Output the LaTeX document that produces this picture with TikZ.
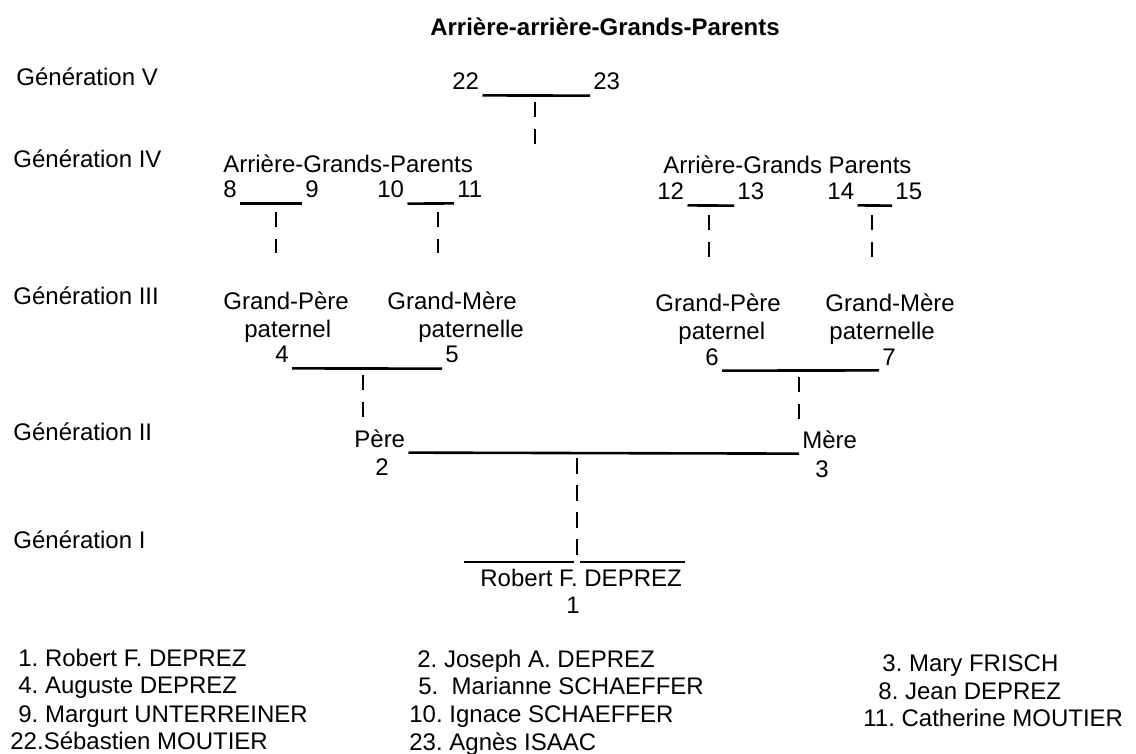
\documentclass[tikz,border=0pt]{standalone}
\usepackage{fontspec}
\setmainfont{Liberation Sans}
\usepackage{tikz}
\usetikzlibrary{positioning}
\usetikzlibrary{calc}
\frenchspacing
\tikzset{
    lbl/.style = {anchor=base west, inner xsep=1.5pt, inner ysep=2.5pt},
    num/.style = {anchor=base west, inner xsep=1.5pt, inner ysep=2.5pt},
    ctr/.style = {anchor=base, inner sep=0pt},
    leg/.style = {anchor=base west, inner sep=0pt},
    titre/.style = {anchor=base, inner sep=0pt, font=\fontsize{12}{14}\selectfont\bfseries},
}

\begin{document}
\begin{tikzpicture}[
	x=0.5pt, y=-0.5pt,
	font=\fontsize{12}{14}\selectfont
]
\tikzset{
    lien/.style = {line width=1.3pt},
    desc/.style = {line width=1.3pt, dash pattern=on 7.75pt off 5.75pt}
}
\useasboundingbox (0,0) rectangle (1136,754);
%
\node[titre] (titre) at (605,36) {Arrière-arrière-Grands-Parents};
\node[leg] (g5) at (16,86) {Génération V};
\node[leg] (g4) at (13,168) {Génération IV};
\node[leg] (g3) at (13,305) {Génération III};
\node[leg] (g2) at (13,440) {Génération II};
\node[leg] (g1) at (13,548) {Génération I};
%
\node[num] (p22) at (449,90) {22};
\node[num] (p23) at (590,90) {23};
\draw[lien] (p22.south east) -- (p23.south west);
\coordinate (h2223) at (535,102);
\coordinate (b2223) at (535,145);
\draw[desc] (h2223) -- (b2223);
%
\node[lbl] (agp1) at (220,173) {Arrière-Grands-Parents};
\node[num] (p8) at (220,198) {8};
\node[num] (p9) at (302,198) {9};
\node[num] (p10) at (374,198) {10};
\node[num] (p11) at (454,198) {11};
\draw[lien] (p8.south east) -- (p9.south west);
\draw[lien] (p10.south east) -- (p11.south west);
\coordinate (h89) at (276,212);
\coordinate (b89) at (276,253);
\coordinate (h1011) at (438,212);
\coordinate (b1011) at (438,253);
\draw[desc] (h89) -- (b89);
\draw[desc] (h1011) -- (b1011);
%
\node[lbl] (agp2) at (660,174) {Arrière-Grands Parents};
\node[num] (p12) at (654,200) {12};
\node[num] (p13) at (734,200) {13};
\node[num] (p14) at (824,200) {14};
\node[num] (p15) at (892,200) {15};
\draw[lien] (p12.south east) -- (p13.south west);
\draw[lien] (p14.south east) -- (p15.south west);
\coordinate (h1213) at (709,215);
\coordinate (b1213) at (709,257);
\coordinate (h1415) at (872,215);
\coordinate (b1415) at (872,257);
\draw[desc] (h1213) -- (b1213);
\draw[desc] (h1415) -- (b1415);
%
\node[lbl] (gp4) at (220,310) {Grand-Père};
\node[lbl] (pat4) at (241,338) {paternel};
\node[lbl] (gm5) at (384,310) {Grand-Mère};
\node[lbl] (pat5) at (415,338) {paternelle};
\node[num] (p4) at (272,363) {4};
\node[num] (p5) at (442,363) {5};
\draw[lien] (p4.south east) -- (p5.south west);
%
\node[lbl] (gp6) at (652,312) {Grand-Père};
\node[lbl] (pat6) at (675,340) {paternel};
\node[lbl] (gm7) at (822,312) {Grand-Mère};
\node[lbl] (pat7) at (826,340) {paternelle};
\node[num] (p6) at (702,365) {6};
\node[num] (p7) at (879,365) {7};
\draw[lien] (p6.south east) -- (p7.south west);
%
\node[lbl] (pere) at (351,447) {Père};
\node[ctr] (p2) at (382,475) {2};
\node[lbl] (mere) at (799,448) {Mère};
\node[ctr] (p3) at (822,477) {3};
\draw[lien] (pere.south east) -- (mere.south west);
\coordinate (h45) at (363,375);
\coordinate (h67) at (799,377);
\draw[desc] (h45) -- (h45 |- pere.north);
\draw[desc] (h67) -- (mere.north west);
%
\node[lbl] (robert) at (477,586) {Robert F. DEPREZ};
\node[ctr] (p1) at (573,613) {1};
\coordinate (h23) at (577,458);
\coordinate (c1) at (577,562);
\draw[desc] (h23) -- (c1);
\draw[lien] ([xshift=-6.5pt]robert.north west |- c1) -- ([xshift=-1.5pt]c1);
\draw[lien] ([xshift=1.5pt]c1) -- (robert.north east |- c1);
%
\node[leg] (l1) at (18,666) {1. Robert F. DEPREZ};
\node[leg] (l4) at (18,693) {4. Auguste DEPREZ};
\node[leg] (l9) at (18,722) {9. Margurt UNTERREINER};
\node[leg] (l22) at (10,749) {22.Sébastien MOUTIER};
%
\node[leg] (l2) at (417,667) {2. Joseph A. DEPREZ};
\node[leg] (l5) at (418,694) {5.\ \ Marianne SCHAEFFER};
\node[leg] (l10) at (409,722) {10. Ignace SCHAEFFER};
\node[leg] (l23) at (409,750) {23. Agnès ISAAC};
%
\node[leg] (l3) at (882,671) {3. Mary FRISCH};
\node[leg] (l8) at (878,699) {8. Jean DEPREZ};
\node[leg] (l11) at (863,726) {11. Catherine MOUTIER};
\end{tikzpicture}
\end{document}
